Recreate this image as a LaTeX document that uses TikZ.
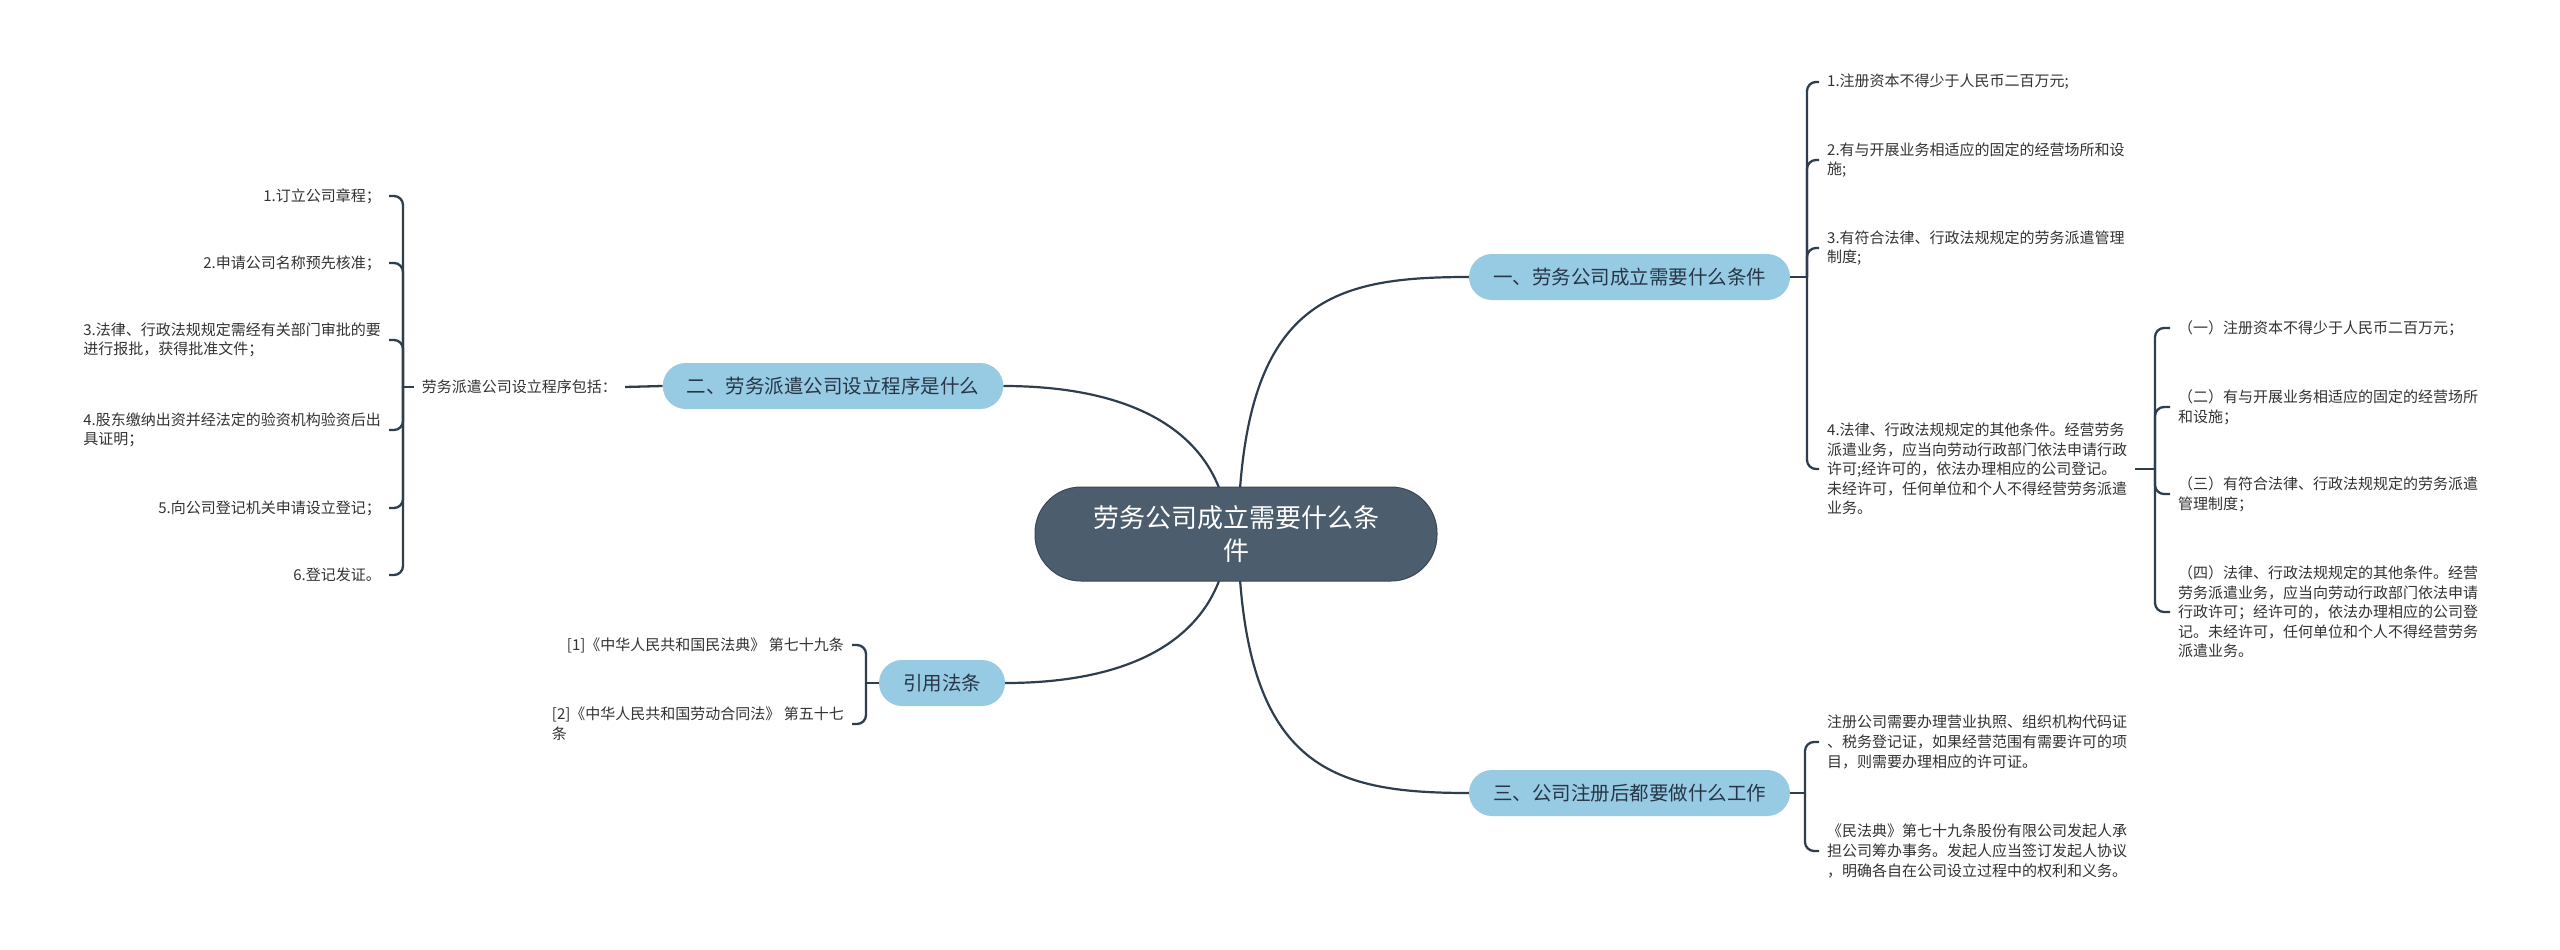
\documentclass[tikz,border=0pt]{standalone}
\usepackage{fontspec}
\setmainfont{Noto Sans CJK SC}
\usetikzlibrary{backgrounds}
\definecolor{rootc}{HTML}{4C5D6E}
\definecolor{rootd}{HTML}{3A4856}
\definecolor{branchc}{HTML}{97CBE3}
\definecolor{linec}{HTML}{2F3E4D}
\definecolor{txtc}{HTML}{333333}
\definecolor{btc}{HTML}{273646}
\begin{document}
\begin{tikzpicture}[x=1pt,y=-1pt,
  small/.style={font=\fontsize{15}{19.6}\selectfont, text=txtc, inner xsep=8pt, inner ysep=2pt, align=left},
  branch/.style={fill=branchc, rounded corners=23pt, minimum height=46pt, inner xsep=24pt, font=\fontsize{19.5}{24}\selectfont, text=btc},
  rootbox/.style={fill=rootc, draw=rootd, line width=1pt, rounded corners=46pt, minimum width=402pt, minimum height=94pt, text=white, align=center, font=\fontsize{26}{33}\selectfont},
  conn/.style={draw=linec, line width=2.3pt, rounded corners=9pt},
  mainconn/.style={draw=linec, line width=2.2pt}]
\useasboundingbox (0,0) rectangle (2560,950);

\node[rootbox] (root) at (1236,534) {劳务公司成立需要什么条\\件};
\node[branch] (n1) at (1629.5,277) {一、劳务公司成立需要什么条件};
\node[branch] (n2) at (833,386) {二、劳务派遣公司设立程序是什么};
\node[branch] (n4) at (942,683) {引用法条};
\node[branch] (n3) at (1629.5,793) {三、公司注册后都要做什么工作};

% right top items
\node[small, anchor=west] (c11) at (1819,82) {1.注册资本不得少于人民币二百万元;};
\node[small, anchor=west] (c12) at (1819,160) {2.有与开展业务相适应的固定的经营场所和设\\施;};
\node[small, anchor=west] (c13) at (1819,248) {3.有符合法律、行政法规规定的劳务派遣管理\\制度;};
\node[small, anchor=west] (c14) at (1819,469) {4.法律、行政法规规定的其他条件。经营劳务\\派遣业务，应当向劳动行政部门依法申请行政\\许可;经许可的，依法办理相应的公司登记。\\未经许可，任何单位和个人不得经营劳务派遣\\业务。};

% sub items
\node[small, anchor=west] (c141) at (2170,328) {（一）注册资本不得少于人民币二百万元；};
\node[small, anchor=west] (c142) at (2170,407) {（二）有与开展业务相适应的固定的经营场所\\和设施；};
\node[small, anchor=west] (c143) at (2170,494) {（三）有符合法律、行政法规规定的劳务派遣\\管理制度；};
\node[small, anchor=west] (c144) at (2170,612) {（四）法律、行政法规规定的其他条件。经营\\劳务派遣业务，应当向劳动行政部门依法申请\\行政许可；经许可的，依法办理相应的公司登\\记。未经许可，任何单位和个人不得经营劳务\\派遣业务。};

% bottom right items
\node[small, anchor=west] (c31) at (1819,742) {注册公司需要办理营业执照、组织机构代码证\\、税务登记证，如果经营范围有需要许可的项\\目，则需要办理相应的许可证。};
\node[small, anchor=west] (c32) at (1819,851) {《民法典》第七十九条股份有限公司发起人承\\担公司筹办事务。发起人应当签订发起人协议\\，明确各自在公司设立过程中的权利和义务。};

% left
\node[small, anchor=east] (l2) at (625,387) {劳务派遣公司设立程序包括：};
\node[small, anchor=east] (c21) at (389,196) {1.订立公司章程；};
\node[small, anchor=east] (c22) at (389,263) {2.申请公司名称预先核准；};
\node[small, anchor=east] (c23) at (389,340) {3.法律、行政法规规定需经有关部门审批的要\\进行报批，获得批准文件；};
\node[small, anchor=east] (c24) at (389,430) {4.股东缴纳出资并经法定的验资机构验资后出\\具证明；};
\node[small, anchor=east] (c25) at (389,508) {5.向公司登记机关申请设立登记；};
\node[small, anchor=east] (c26) at (389,575) {6.登记发证。};

% citations
\node[small, anchor=east] (c41) at (852,645) {[1]《中华人民共和国民法典》 第七十九条};
\node[small, anchor=east] (c42) at (852,724) {[2]《中华人民共和国劳动合同法》 第五十七\\条};

\begin{pgfonlayer}{background}
\fill[white] (0,0) rectangle (2560,950);
\coordinate (rl) at (1229,534);
\coordinate (rr) at (1238,534);
\draw[mainconn] (rr) .. controls (1242,300) and (1330,277) .. (n1.west);
\draw[mainconn] (rr) .. controls (1242,768) and (1330,793) .. (n3.west);
\draw[mainconn] (rl) .. controls (1222,430) and (1130,386) .. (n2.east);
\draw[mainconn] (rl) .. controls (1222,640) and (1130,683) .. (n4.east);

\coordinate (s1) at (1807,277);
\draw[conn] (n1.east) -- (s1);
\foreach \c in {c11,c12,c13,c14} \draw[conn] (s1) |- (\c.west);

\coordinate (s14) at (2155,469);
\draw[conn] (c14.east) -- (s14);
\foreach \c in {c141,c142,c143,c144} \draw[conn] (s14) |- (\c.west);

\coordinate (s3) at (1805,793);
\draw[conn] (n3.east) -- (s3);
\foreach \c in {c31,c32} \draw[conn] (s3) |- (\c.west);

\draw[conn] (n2.west) -- (l2.east);
\coordinate (s2) at (403,387);
\draw[conn] (l2.west) -- (s2);
\foreach \c in {c21,c22,c23,c24,c25,c26} \draw[conn] (s2) |- (\c.east);

\coordinate (s4) at (866,683);
\draw[conn] (n4.west) -- (s4);
\foreach \c in {c41,c42} \draw[conn] (s4) |- (\c.east);
\end{pgfonlayer}
\end{tikzpicture}
\end{document}
